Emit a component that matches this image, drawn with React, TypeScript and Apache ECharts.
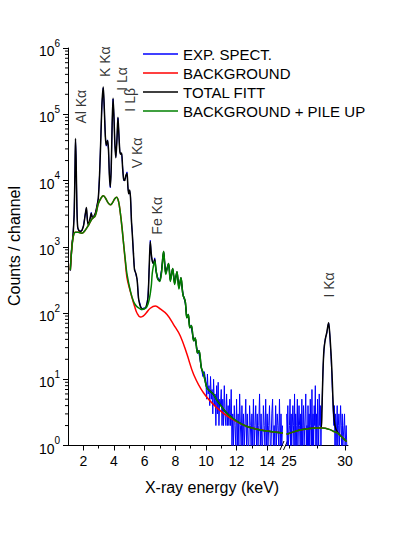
import React, { useEffect, useRef } from 'react';
import * as echarts from 'echarts';

const FONT = '"Liberation Sans", Arial, Helvetica, sans-serif';

// ---------- x tick values ----------
const xMajorLeft = [2, 4, 6, 8, 10, 12, 14];
const xMinorLeft = [3, 5, 7, 9, 11, 13];
const xLabelsRight = [25, 30];
const xMajorRight = [30];
const xMinorRight = [25, 27.5];
const yDecades = [1, 10, 100, 1000, 10000, 100000];
const yMinorMult = [2, 3, 4, 5, 6, 7, 8, 9];

// ---------- TOTAL FITT (black), low-energy part ----------
const totalE = [1.15, 1.25, 1.33, 1.40, 1.45, 1.49, 1.53, 1.58, 1.63, 1.72, 1.82, 1.92, 2.02, 2.12, 2.20, 2.27, 2.34, 2.43, 2.52, 2.60, 2.70, 2.80, 2.90, 2.98, 3.06, 3.15, 3.22, 3.30, 3.37, 3.44, 3.50, 3.58, 3.64, 3.70, 3.76, 3.82, 3.88, 3.94, 4.00, 4.06, 4.12, 4.19, 4.26, 4.32, 4.38, 4.44, 4.50, 4.56, 4.63, 4.70, 4.78, 4.85, 4.91, 4.96, 5.02, 5.08, 5.14, 5.20, 5.27, 5.34, 5.44, 5.52, 5.60, 5.70, 5.80, 5.95, 6.10, 6.22, 6.30, 6.37, 6.43, 6.50, 6.58, 6.66, 6.74, 6.85, 6.98, 7.10, 7.24, 7.38, 7.56, 7.68, 7.83, 7.96, 8.11, 8.24, 8.37, 8.50, 8.65, 8.76, 8.85, 8.95, 9.05, 9.20, 9.30, 9.45, 9.55, 9.70, 9.85, 10.07, 10.30, 10.50, 10.72, 10.94, 11.25, 11.59, 12.10, 12.68, 13.40, 14.20, 15.03];
const totalV = [450, 1000, 1500, 3000, 12000, 43000, 20000, 4000, 2000, 1750, 1700, 1800, 2100, 3000, 3900, 2500, 2100, 2600, 3200, 2700, 2900, 3300, 4200, 5500, 12000, 50000, 150000, 257000, 120000, 45000, 34000, 40000, 30000, 12000, 8000, 15000, 70000, 174000, 90000, 35000, 22000, 40000, 90000, 50000, 28000, 25000, 26000, 16000, 10500, 10000, 12000, 12900, 8000, 6300, 7200, 5500, 2500, 1500, 800, 450, 390, 300, 170, 130, 118, 115, 125, 170, 500, 1200, 800, 600, 560, 650, 450, 330, 310, 420, 850, 400, 560, 310, 470, 280, 420, 240, 340, 190, 150, 85, 95, 60, 65, 38, 42, 25, 27, 15, 12, 7.4, 6.5, 5.9, 4.8, 4.1, 3.3, 2.75, 2.25, 1.94, 1.75, 1.63, 1.55];

// TOTAL FITT, high-energy part (I Kα)
const totalRightE = [24.8, 25.5, 26.2, 26.8, 27.4, 27.86, 27.95, 28.03, 28.12, 28.24, 28.38, 28.53, 28.63, 28.73, 28.83, 28.97, 29.1, 29.3, 29.6, 29.9, 30.15];
const totalRightV = [1.48, 1.62, 1.74, 1.80, 1.83, 1.83, 4, 13, 28, 40, 52, 71, 50, 28, 13, 3.3, 2.0, 1.6, 1.4, 1.25, 1.15];

// ---------- BACKGROUND + PILE UP (green) ----------
const pileE = [1.15, 1.25, 1.35, 1.48, 1.67, 1.90, 2.10, 2.33, 2.55, 2.78, 2.98, 3.15, 3.30, 3.45, 3.62, 3.76, 3.90, 4.05, 4.17, 4.30, 4.41, 4.52, 4.63, 4.75, 4.85, 5.07, 5.27, 5.46, 5.72, 5.85, 6.04, 6.15, 6.30, 6.43, 6.50, 6.58, 6.66, 6.74, 6.85, 6.98, 7.10, 7.24, 7.38, 7.56, 7.68, 7.83, 7.96, 8.11, 8.24, 8.37, 8.50, 8.65, 8.76, 8.85, 8.95, 9.05, 9.20, 9.30, 9.45, 9.55, 9.70, 9.85, 10.07, 10.30, 10.50, 10.72, 10.94, 11.25, 11.59, 12.10, 12.68, 13.40, 14.20, 15.03];
const pileV = [440, 950, 1450, 1650, 1650, 1600, 1750, 2100, 2600, 2950, 4500, 5400, 5900, 5400, 4600, 4300, 4600, 5300, 5600, 4800, 3300, 2000, 1100, 600, 385, 215, 150, 127, 115, 113, 118, 125, 160, 250, 400, 520, 600, 450, 330, 300, 400, 850, 380, 560, 300, 470, 270, 420, 230, 340, 190, 150, 85, 95, 60, 65, 38, 42, 25, 27, 15, 12, 7.4, 6.5, 5.9, 4.8, 4.1, 3.3, 2.75, 2.25, 1.94, 1.75, 1.63, 1.55];
const pileRightE = [24.8, 25.5, 26.2, 26.8, 27.4, 28.0, 28.6, 29.0, 29.3, 29.6, 29.9, 30.15];
const pileRightV = [1.48, 1.62, 1.74, 1.80, 1.83, 1.83, 1.75, 1.63, 1.55, 1.40, 1.25, 1.15];

// ---------- BACKGROUND (red) ----------
const bgE = [1.15, 1.25, 1.35, 1.48, 1.67, 1.90, 2.10, 2.33, 2.55, 2.78, 2.98, 3.15, 3.30, 3.45, 3.62, 3.76, 3.90, 4.05, 4.17, 4.30, 4.41, 4.52, 4.63, 4.75, 4.85, 5.07, 5.18, 5.35, 5.50, 5.72, 5.90, 6.10, 6.37, 6.70, 7.02, 7.46, 7.89, 8.33, 8.76, 9.20, 9.85, 10.72, 11.59, 12.68, 14.20, 15.03];
const bgV = [440, 950, 1450, 1650, 1650, 1600, 1750, 2100, 2600, 2950, 4500, 5400, 5900, 5400, 4600, 4300, 4600, 5300, 5600, 4800, 3300, 2000, 1100, 560, 340, 210, 170, 125, 100, 87, 90, 100, 118, 127, 115, 95, 67, 45, 24, 11.8, 6.2, 3.7, 2.6, 1.94, 1.63, 1.55];
const bgRightE = [24.8, 25.5, 26.2, 26.8, 27.4, 28.0, 28.6, 29.0, 29.3, 29.6, 29.9, 30.15];
const bgRightV = [1.48, 1.62, 1.74, 1.80, 1.83, 1.83, 1.75, 1.63, 1.55, 1.40, 1.25, 1.15];

// ---------- EXP. SPECT. (blue) ----------
// peak region, measured at the first 97 energies of totalE
const expLowV = [430, 1050, 1550, 3100, 12500, 41000, 21000, 4100, 1900, 1700, 1750, 1750, 2150, 3100, 3800, 2400, 2150, 2550, 3300, 2650, 2950, 3250, 4300, 5400, 12500, 52000, 148000, 250000, 118000, 46000, 33000, 41000, 29000, 12500, 7800, 15500, 68000, 170000, 92000, 34000, 23000, 39000, 88000, 52000, 27000, 26000, 25000, 17000, 10000, 10500, 11500, 13500, 7600, 6600, 7000, 5800, 2400, 1600, 750, 470, 370, 320, 160, 140, 112, 120, 118, 180, 480, 1250, 760, 620, 540, 680, 430, 350, 300, 440, 820, 420, 540, 330, 450, 300, 400, 260, 320, 200, 140, 90, 88, 65, 58, 40, 38, 27, 24];
const expMidE = [9.7, 9.8, 9.9];
const expMidV = [15, 11, 13];
// noisy tail: channels of 0.05 keV starting at 10.00 keV
const expTailStart = 10.0;
const expRightStart = 24.8;
const channelWidth = 0.05;
const expTailV = [
  9, 5, 12, 6, 8, 4, 11, 5, 7, 3,
  10, 4, 6, 2, 8, 3, 9, 2, 5, 4,
  7, 2, 5, 2, 8, 3, 2, 6, 2, 4,
  2, 5, 2, 7, 1, 3, 1, 4, 2, 1,
  5, 1, 3, 1, 6, 2, 1, 4, 1, 3,
  1, 2, 5, 1, 3, 1, 1, 4, 2, 1,
  3, 1, 5, 1, 2, 4, 1, 3, 1, 2,
  6, 1, 3, 1, 1, 4, 2, 1, 5, 1,
  3, 1, 2, 4, 1, 1, 3, 5, 1, 2,
  1, 4, 1, 3, 2, 1, 5, 1, 3, 1,
  2,
];
const expRightV = [
  3, 1, 4, 1, 1, 2, 5, 1, 3, 1,
  1, 4, 2, 1, 6, 1, 3, 1, 2, 5,
  1, 1, 4, 2, 1, 3, 1, 5, 1, 2,
  4, 1, 1, 3, 6, 1, 2, 1, 4, 1,
  3, 1, 5, 2, 1, 7, 1, 3, 1, 4,
  2, 8, 1, 3, 1, 5, 2, 1, 6, 2,
  4, 1, 3, 4, 9, 16, 24, 32, 38, 42,
  45, 47, 52, 60, 68, 70, 58, 45, 30, 22,
  14, 8, 5, 3, 2, 4, 1, 3, 1, 1,
  4, 1, 2, 3, 1, 1, 4, 2, 1, 3,
  1, 1, 2, 3, 1, 1, 2, 1, 1,
];

// ---------- peak annotations ----------
const peakNamesLeft = ['Al Kα', 'K Kα', 'I Lα', 'I Lβ', 'V Kα', 'Fe Kα'];
const peakLabelE = [1.87, 3.44, 4.51, 5.07, 5.52, 6.79];
const peakLabelY = [130000, 620000, 340000, 165000, 26000, 2930];
const peakNamesRight = ['I Kα'];
const peakLabelERight = [28.59];
const peakLabelYRight = [265];

const pairs = (xs: number[], ys: number[]) => ys.map((y, i) => [xs[i], y]);
const channels = (start: number, ys: number[]) =>
  ys.map((y, i) => [Math.round((start + i * channelWidth) * 1000) / 1000, y]);

const BLUE = '#0000ff';
const RED = '#ff0000';
const BLACK = '#000000';
const GREEN = '#008000';

const NAME_EXP = 'EXP. SPECT.';
const NAME_BG = 'BACKGROUND';
const NAME_TOT = 'TOTAL FITT';
const NAME_PILE = 'BACKGROUND + PILE UP';

function lineSeries(name: string, color: string, width: number, xi: number, yi: number, data: number[][], smooth: number | boolean, z: number) {
  return {
    type: 'line',
    name,
    xAxisIndex: xi,
    yAxisIndex: yi,
    data,
    symbol: 'none',
    showSymbol: false,
    smooth,
    z,
    lineStyle: { color, width },
    itemStyle: { color },
    emphasis: { disabled: true },
    silent: true,
  };
}

function buildOption() {
  const axisText = { fontFamily: FONT, fontSize: 14, color: '#000' };
  const minorY: number[][] = [];
  yDecades.forEach((d) => yMinorMult.forEach((m) => minorY.push([1, d * m])));

  const labelSeries = (names: string[], es: number[], ys: number[], xi: number, yi: number) => ({
    type: 'scatter',
    xAxisIndex: xi,
    yAxisIndex: yi,
    symbolSize: 2,
    itemStyle: { color: 'rgba(0,0,0,0)' },
    silent: true,
    clip: false,
    z: 10,
    data: names.map((n, i) => ({ name: n, value: [es[i], ys[i]] })),
    label: {
      show: true,
      position: 'inside',
      rotate: 90,
      formatter: '{b}',
      fontFamily: FONT,
      fontSize: 14,
      color: '#000',
    },
    labelLayout: { hideOverlap: false },
  });

  const legendIcon = 'path://M0,0L35,0L35,1.3L0,1.3Z';

  return {
    animation: false,
    backgroundColor: '#ffffff',
    textStyle: { fontFamily: FONT },
    grid: [
      { left: 68, top: 48, width: 215, height: 397.5, containLabel: false },
      { left: 286, top: 48, width: 62, height: 397.5, containLabel: false },
    ],
    xAxis: [
      {
        type: 'value', gridIndex: 0, position: 'bottom', min: 1, max: 15.03,
        axisLine: { show: true, lineStyle: { color: '#000', width: 1 } },
        axisTick: { show: true, inside: false, length: 5, customValues: xMajorLeft, lineStyle: { color: '#000' } },
        axisLabel: { show: true, margin: 8, customValues: xMajorLeft, ...axisText },
        splitLine: { show: false },
      },
      {
        type: 'value', gridIndex: 0, position: 'bottom', min: 1, max: 15.03,
        axisLine: { show: false },
        axisTick: { show: true, inside: false, length: 3, customValues: xMinorLeft, lineStyle: { color: '#000' } },
        axisLabel: { show: false },
        splitLine: { show: false },
      },
      {
        type: 'value', gridIndex: 1, position: 'bottom', min: 24.74, max: 30.26,
        axisLine: { show: true, lineStyle: { color: '#000', width: 1 } },
        axisTick: { show: true, inside: false, length: 5, customValues: xMajorRight, lineStyle: { color: '#000' } },
        axisLabel: { show: true, margin: 8, customValues: xLabelsRight, ...axisText },
        splitLine: { show: false },
      },
      {
        type: 'value', gridIndex: 1, position: 'bottom', min: 24.74, max: 30.26,
        axisLine: { show: false },
        axisTick: { show: true, inside: false, length: 3, customValues: xMinorRight, lineStyle: { color: '#000' } },
        axisLabel: { show: false },
        splitLine: { show: false },
      },
    ],
    yAxis: [
      {
        type: 'log', logBase: 10, gridIndex: 0, min: 1, max: 1000000, splitNumber: 6,
        axisLine: { show: true, lineStyle: { color: '#000', width: 1 } },
        axisTick: { show: true, inside: false, length: 5, lineStyle: { color: '#000' } },
        axisLabel: {
          show: true,
          margin: 8,
          color: '#000',
          formatter: (v: number) => `{b|10}{e|${Math.round(Math.log10(v))}}`,
          rich: {
            b: { fontFamily: FONT, fontSize: 14, lineHeight: 20, verticalAlign: 'bottom', color: '#000' },
            e: { fontFamily: FONT, fontSize: 10, lineHeight: 10, verticalAlign: 'top', color: '#000' },
          },
        },
        splitLine: { show: false },
        minorTick: { show: false },
      },
      {
        type: 'log', logBase: 10, gridIndex: 1, min: 1, max: 1000000, show: false,
        splitLine: { show: false },
      },
    ],
    legend: {
      data: [
        { name: NAME_EXP, icon: legendIcon },
        { name: NAME_BG, icon: legendIcon },
        { name: NAME_TOT, icon: legendIcon },
        { name: NAME_PILE, icon: legendIcon },
      ],
      orient: 'vertical',
      left: 143,
      top: 46.5,
      padding: 0,
      itemWidth: 35,
      itemHeight: 15,
      itemGap: 4,
      selectedMode: false,
      textStyle: { fontFamily: FONT, fontSize: 15, color: '#000' },
    },
    series: [
      lineSeries(NAME_EXP, BLUE, 1, 0, 0, [...pairs(totalE, expLowV), ...pairs(expMidE, expMidV), ...channels(expTailStart, expTailV)], false, 2),
      lineSeries(NAME_EXP, BLUE, 1, 2, 1, channels(expRightStart, expRightV), false, 2),
      lineSeries(NAME_TOT, BLACK, 1.5, 0, 0, pairs(totalE, totalV), 0.3, 3),
      lineSeries(NAME_TOT, BLACK, 1.5, 2, 1, pairs(totalRightE, totalRightV), 0.3, 3),
      lineSeries(NAME_BG, RED, 1.5, 0, 0, pairs(bgE, bgV), 0.4, 4),
      lineSeries(NAME_BG, RED, 1.5, 2, 1, pairs(bgRightE, bgRightV), 0.4, 4),
      lineSeries(NAME_PILE, GREEN, 1.5, 0, 0, pairs(pileE, pileV), 0.4, 5),
      lineSeries(NAME_PILE, GREEN, 1.5, 2, 1, pairs(pileRightE, pileRightV), 0.4, 5),
      {
        type: 'custom',
        xAxisIndex: 0,
        yAxisIndex: 0,
        silent: true,
        clip: false,
        z: 6,
        data: minorY,
        renderItem: (_params: any, api: any) => {
          const p = api.coord([api.value(0), api.value(1)]);
          return {
            type: 'line',
            shape: { x1: p[0] - 3, y1: p[1], x2: p[0], y2: p[1] },
            style: { stroke: '#000', lineWidth: 1 },
          };
        },
      },
      labelSeries(peakNamesLeft, peakLabelE, peakLabelY, 0, 0),
      labelSeries(peakNamesRight, peakLabelERight, peakLabelYRight, 2, 1),
    ],
    graphic: [
      {
        type: 'text',
        x: 14,
        y: 246,
        rotation: Math.PI / 2,
        style: {
          text: 'Counts / channel',
          fontFamily: FONT,
          fontSize: 16,
          font: `16px ${FONT}`,
          fill: '#000',
          textAlign: 'center',
          align: 'center',
          textVerticalAlign: 'middle',
          verticalAlign: 'middle',
        },
      },
      {
        type: 'text',
        x: 212,
        y: 487,
        style: {
          text: 'X-ray energy (keV)',
          fontFamily: FONT,
          fontSize: 16,
          font: `16px ${FONT}`,
          fill: '#000',
          textAlign: 'center',
          align: 'center',
          textVerticalAlign: 'middle',
          verticalAlign: 'middle',
        },
      },
      { type: 'line', shape: { x1: 280, y1: 450, x2: 284, y2: 441 }, style: { stroke: '#000', lineWidth: 1 } },
      { type: 'line', shape: { x1: 283.5, y1: 450, x2: 287.5, y2: 441 }, style: { stroke: '#000', lineWidth: 1 } },
    ],
  };
}

export default function App() {
  const ref = useRef<HTMLDivElement>(null);
  useEffect(() => {
    if (!ref.current) return;
    const chart = echarts.init(ref.current, null, { renderer: 'svg' });
    chart.setOption(buildOption() as any);
    return () => chart.dispose();
  }, []);
  return (
    <div
      ref={ref}
      style={{ position: 'absolute', left: 0, top: 0, width: 415, height: 537, background: '#ffffff' }}
    />
  );
}
